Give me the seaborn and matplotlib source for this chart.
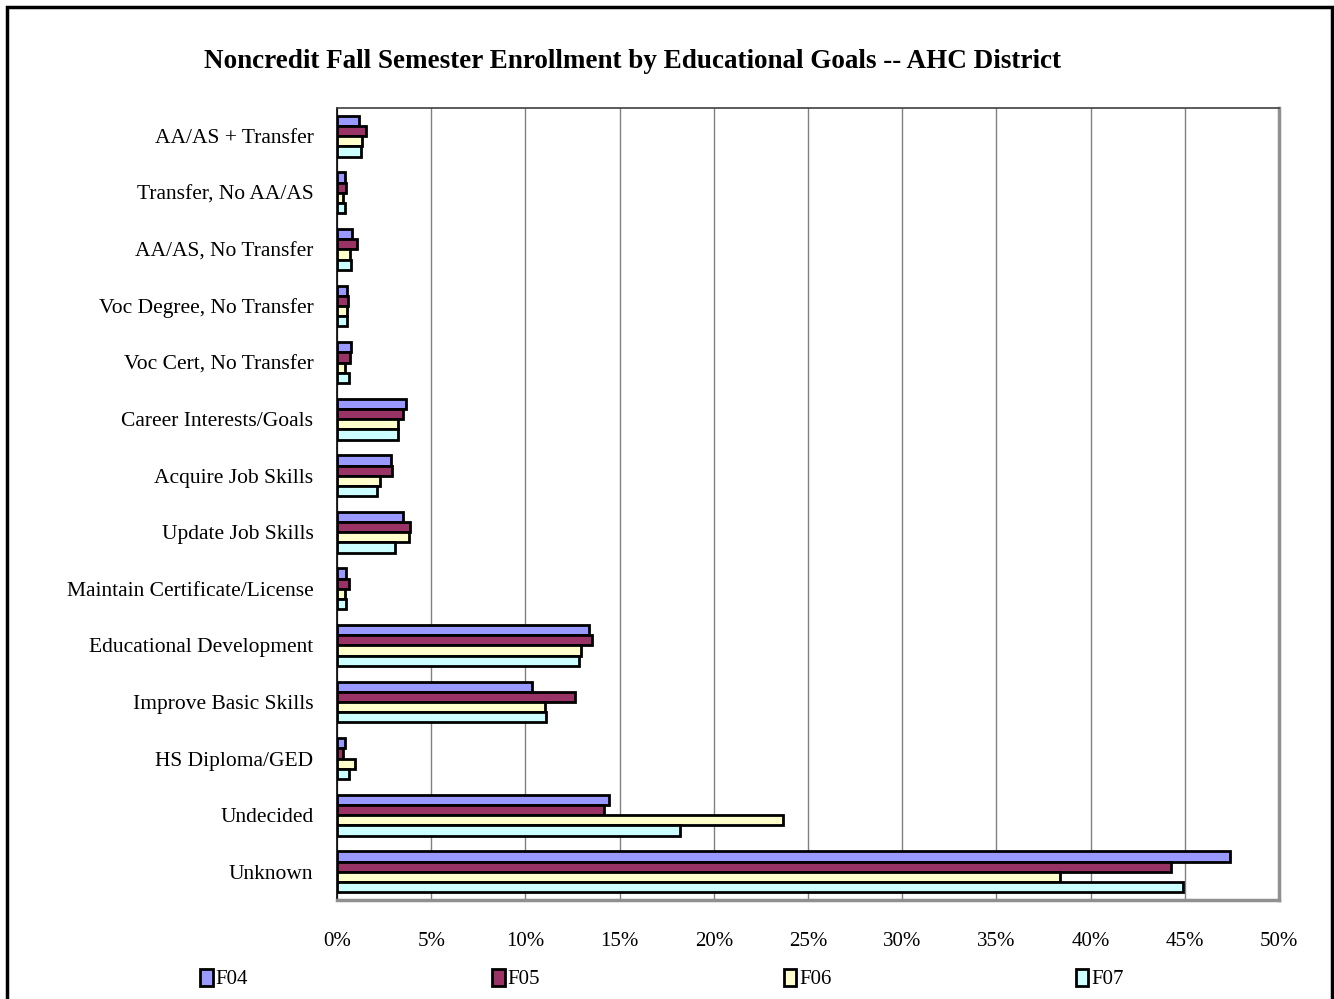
import numpy as np
import pandas as pd
import matplotlib
matplotlib.use("Agg")
import matplotlib.pyplot as plt
import seaborn as sns

# Data (percent of enrollment)
goals = ["AA/AS + Transfer", "Transfer, No AA/AS", "AA/AS, No Transfer",
         "Voc Degree, No Transfer", "Voc Cert, No Transfer", "Career Interests/Goals",
         "Acquire Job Skills", "Update Job Skills", "Maintain Certificate/License",
         "Educational Development", "Improve Basic Skills", "HS Diploma/GED",
         "Undecided", "Unknown"]
terms = ["F04", "F05", "F06", "F07"]

f04 = [1.18, 0.44, 0.80, 0.53, 0.74, 3.64, 2.87, 3.49, 0.48, 13.40, 10.35, 0.44, 14.42, 47.40]
f05 = [1.52, 0.48, 1.04, 0.60, 0.69, 3.49, 2.92, 3.89, 0.65, 13.55, 12.65, 0.30, 14.15, 44.28]
f06 = [1.31, 0.34, 0.69, 0.53, 0.44, 3.26, 2.28, 3.82, 0.44, 12.93, 11.04, 0.97, 23.67, 38.38]
f07 = [1.26, 0.41, 0.76, 0.53, 0.65, 3.22, 2.12, 3.10, 0.48, 12.85, 11.08, 0.64, 18.22, 44.90]

bar_colors = ["#9999FF", "#993366", "#FFFFCC", "#CCFFFF"]

df = pd.DataFrame({"goal": goals * 4,
                   "term": np.repeat(terms, len(goals)),
                   "pct": f04 + f05 + f06 + f07})

sns.set_style("white")
plt.rcParams['font.family'] = ['Liberation Serif', 'DejaVu Serif']
plt.rcParams['text.color'] = 'black'
plt.rcParams['xtick.color'] = 'black'
plt.rcParams['ytick.color'] = 'black'

fig = plt.figure(figsize=(13.34, 9.99), dpi=100)
ax = fig.add_axes([337/1334, 1-900/999, (1279-337)/1334, (900-108)/999])

sns.barplot(data=df, y="goal", x="pct", hue="term", order=goals, hue_order=terms,
            palette=bar_colors, orient="h", width=0.72, edgecolor="black",
            linewidth=2.0, saturation=1, ax=ax, legend=True)

ax.set_xlim(0, 50)
ax.set_ylim(len(goals) - 0.5, -0.5)
ax.set_xticks(np.arange(0, 51, 5))
ax.set_xticklabels([f"{v}%" for v in range(0, 51, 5)], fontsize=15)
ax.tick_params(axis="x", length=0, pad=23)
ax.set_yticks(range(len(goals)))
ax.set_yticklabels(goals, fontsize=15.5)
ax.tick_params(axis="y", which="major", length=0, pad=17)
ax.set_yticks(np.arange(-0.5, len(goals), 1), minor=True)
ax.tick_params(axis="y", which="minor", length=7, width=1, color="#404040")
ax.set_xlabel("")
ax.set_ylabel("")
ax.grid(axis="x", color="#808080", linewidth=1)
ax.set_axisbelow(True)

ax.spines["left"].set_color("black")
ax.spines["left"].set_linewidth(1.2)
ax.spines["top"].set_color("#404040")
ax.spines["top"].set_linewidth(1.2)
for s in ["right", "bottom"]:
    ax.spines[s].set_color("#909090")
    ax.spines[s].set_linewidth(2.5)

# legend along the bottom
handles, labels = ax.get_legend_handles_labels()
ax.get_legend().remove()
fig.legend(handles, labels, loc="center", ncol=4,
           bbox_to_anchor=(662/1334, 1-979/999), frameon=False,
           fontsize=15, handlelength=0.6, handleheight=0.9,
           handletextpad=0.15, columnspacing=11.7)

fig.text(632/1334, 1-61/999,
         "Noncredit Fall Semester Enrollment by Educational Goals -- AHC District",
         ha="center", va="center", fontsize=19.5, fontweight="bold")

# outer chart border
fig.patches.append(plt.Rectangle((7/1334, -0.01), 1325/1334, 1-7/999+0.01,
                                 transform=fig.transFigure, fill=False,
                                 edgecolor="black", linewidth=2.5))

fig.savefig("out.png", dpi=100)
